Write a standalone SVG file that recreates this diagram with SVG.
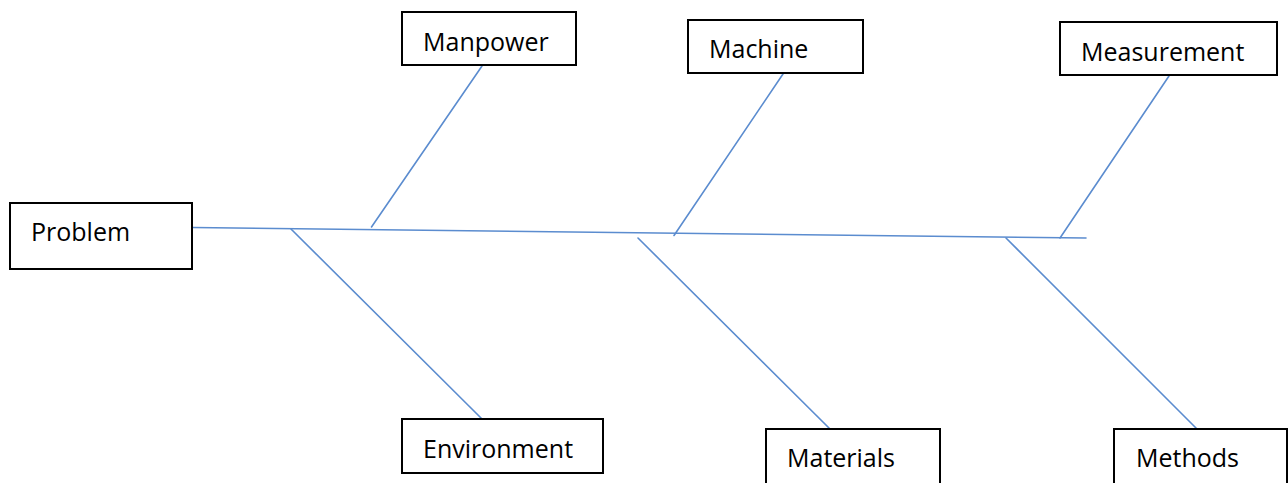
<svg xmlns="http://www.w3.org/2000/svg" width="1288" height="483" viewBox="0 0 1288 483">
<style>
.box{fill:#fff;stroke:#000;stroke-width:2}
.lbl{font-family:"Open Sans","Liberation Sans",sans-serif;font-size:25px;fill:#000}
.ln{stroke:#5b8ccf;stroke-width:1.6;fill:none;stroke-linecap:round}
</style>
<rect width="1288" height="483" fill="#fff"/>
<g id="connectors">
<line class="ln" x1="193" y1="227.5" x2="1086" y2="238"/>
<line class="ln" x1="482" y1="66" x2="371.5" y2="227"/>
<line class="ln" x1="783" y1="74" x2="674" y2="235.5"/>
<line class="ln" x1="1169" y1="76" x2="1060" y2="238"/>
<line class="ln" x1="291" y1="229" x2="482" y2="419"/>
<line class="ln" x1="638" y1="238" x2="830" y2="429"/>
<line class="ln" x1="1006" y1="238" x2="1197" y2="429"/>
</g>
<g id="problem"><rect class="box" x="10" y="203" width="182" height="66"/><text class="lbl" x="31" y="241">Problem</text></g>
<g id="manpower"><rect class="box" x="402" y="12" width="174" height="53"/><text class="lbl" x="423" y="51">Manpower</text></g>
<g id="machine"><rect class="box" x="688" y="20" width="175" height="53"/><text class="lbl" x="709" y="58">Machine</text></g>
<g id="measurement"><rect class="box" x="1060" y="22" width="217" height="53"/><text class="lbl" x="1081" y="61">Measurement</text></g>
<g id="environment"><rect class="box" x="402" y="419" width="201" height="54"/><text class="lbl" x="423" y="458">Environment</text></g>
<g id="materials"><rect class="box" x="766" y="429" width="174" height="60"/><text class="lbl" x="787" y="467">Materials</text></g>
<g id="methods"><rect class="box" x="1114" y="429" width="173" height="60"/><text class="lbl" x="1136" y="467">Methods</text></g>
</svg>
